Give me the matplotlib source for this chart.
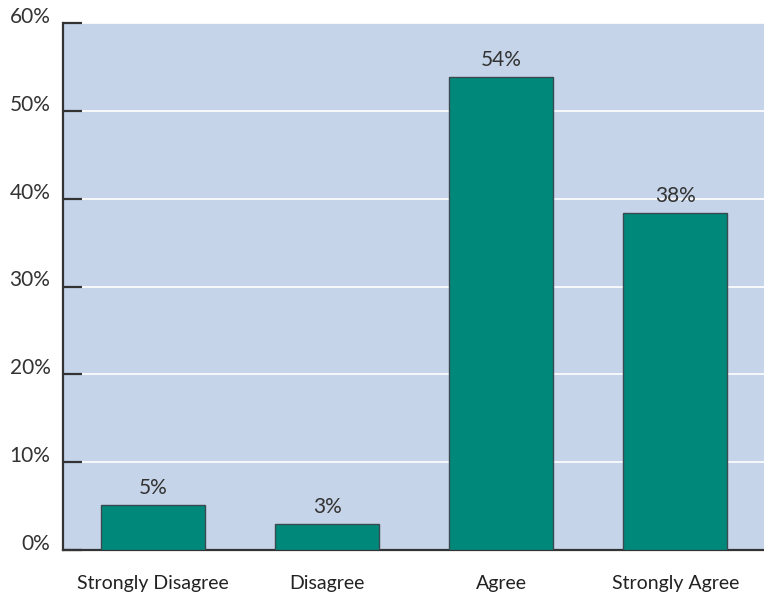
import matplotlib.pyplot as plt
import numpy as np

categories = ['Strongly Disagree', 'Disagree', 'Agree', 'Strongly Agree']
values = [5.1, 2.95, 53.9, 38.4]
bar_labels = ['5%', '3%', '54%', '38%']
yticks = [0, 10, 20, 30, 40, 50, 60]

plt.rcParams['font.family'] = ['Lato', 'DejaVu Sans']

fig = plt.figure(figsize=(7.64, 6.01), dpi=100)
ax = fig.add_axes([63/764, 1-550/601, 1-63/764, 527/601])
ax.set_facecolor('#c5d4e9')

x = np.arange(len(categories))
bars = ax.bar(x, values, width=0.6, color='#00897b', edgecolor='#3a4a50', linewidth=1, zorder=3)
for b, lab in zip(bars, bar_labels):
    ax.text(b.get_x()+b.get_width()/2, b.get_height()+0.8, lab,
            ha='center', va='bottom', fontsize=15, color='#333333')

ax.set_xlim(-0.517, 3.51)
ax.set_ylim(0, 60)
ax.set_yticks(yticks)
ax.set_yticklabels([f'{t}%' for t in yticks], fontsize=15, color='#333333', va='baseline')
ax.set_xticks(x)
ax.set_xticklabels(categories, fontsize=14, color='#222222')
ax.yaxis.grid(True, color='white', linewidth=1.2, zorder=0)
ax.set_axisbelow(True)
ax.tick_params(axis='y', direction='in', length=14, width=1.6, color='#333333', pad=9)
ax.tick_params(axis='x', length=0, pad=18)
for s in ['top', 'right']:
    ax.spines[s].set_visible(False)
for s in ['left', 'bottom']:
    ax.spines[s].set_linewidth(1.6)
    ax.spines[s].set_color('#333333')

fig.savefig('out.png', dpi=100)
